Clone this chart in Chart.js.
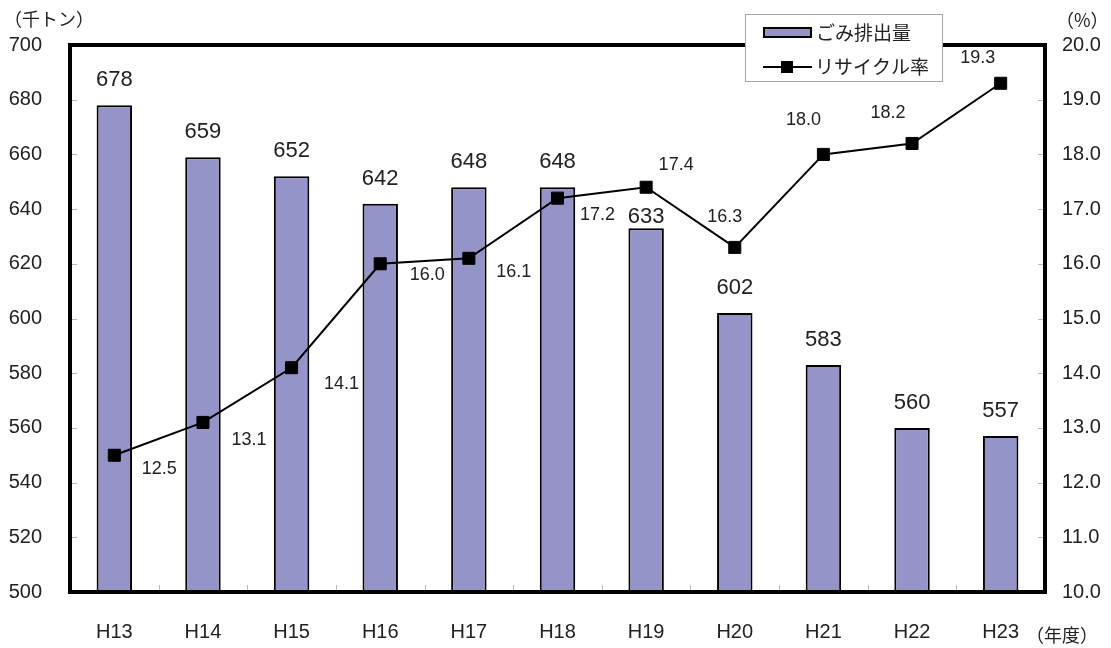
<!DOCTYPE html>
<html>
<head>
<meta charset="utf-8">
<script src="https://cdn.jsdelivr.net/npm/chart.js@4"></script>
<style>
  body { margin: 0; background: #fff; }
  #wrap { width: 1111px; height: 648px; }
</style>
</head>
<body>
<div id="wrap"><canvas id="myChart" width="1111" height="648"></canvas></div>
<script>
// data
var years = ["H13","H14","H15","H16","H17","H18","H19","H20","H21","H22","H23"];
var gomi = [678, 659, 652, 642, 648, 648, 633, 602, 583, 560, 557];
var recycle = [12.5, 13.1, 14.1, 16.0, 16.1, 17.2, 17.4, 16.3, 18.0, 18.2, 19.3];

var barColor = "#9494c8";
var txtColor = "#222";
var numFont = "'Liberation Sans', Arial, sans-serif";
var jpFont = "'Noto Sans CJK JP', 'Noto Sans', sans-serif";

// label placement: bar labels sit above the bar (H19 was nudged down in the original),
// recycle-rate labels sit at (dx, dy) from their point
var barLabelDy = [-25, -25, -25, -25, -25, -25, -11, -25, -25, -25, -25];
var rateOffsets = [[45,14],[46,18],[50,16],[47,11],[45,14],[40,17],[30,-22],[-10,-30],[-20,-34],[-24,-30],[-23,-25]];

var framePlugin = {
  id: 'frame',
  beforeDatasetsDraw: function(chart) {
    var ctx = chart.ctx, a = chart.chartArea, s = chart.scales;
    ctx.save();
    ctx.strokeStyle = '#b8b8b8';
    ctx.lineWidth = 1;
    ctx.beginPath();
    s.y.ticks.forEach(function(t) {
      var y = Math.round(s.y.getPixelForValue(t.value)) + 0.5;
      ctx.moveTo(a.left, y); ctx.lineTo(a.left + 7, y);
    });
    s.y2.ticks.forEach(function(t) {
      var y = Math.round(s.y2.getPixelForValue(t.value)) + 0.5;
      ctx.moveTo(a.right, y); ctx.lineTo(a.right - 7, y);
    });
    var step = a.width / years.length;
    for (var i = 1; i < years.length; i++) {
      var x = Math.round(a.left + i * step) + 0.5;
      ctx.moveTo(x, a.bottom); ctx.lineTo(x, a.bottom - 7);
    }
    ctx.stroke();
    ctx.restore();
  },
  afterDatasetsDraw: function(chart) {
    var ctx = chart.ctx, a = chart.chartArea;
    ctx.save();
    ctx.strokeStyle = '#000';
    ctx.lineWidth = 4;
    ctx.strokeRect(a.left, a.top, a.width, a.height);
    ctx.restore();
  }
};

var labelPlugin = {
  id: 'valueLabels',
  afterDatasetsDraw: function(chart) {
    var ctx = chart.ctx;
    ctx.save();
    ctx.fillStyle = txtColor;
    ctx.textAlign = 'center';
    ctx.textBaseline = 'middle';
    ctx.font = '22px ' + numFont;
    chart.getDatasetMeta(0).data.forEach(function(bar, i) {
      ctx.fillText(gomi[i], bar.x, bar.y + barLabelDy[i]);
    });
    ctx.font = '18px ' + numFont;
    chart.getDatasetMeta(1).data.forEach(function(pt, i) {
      ctx.fillText(recycle[i].toFixed(1), pt.x + rateOffsets[i][0], pt.y + rateOffsets[i][1]);
    });
    ctx.restore();
  }
};

var extrasPlugin = {
  id: 'extras',
  afterDraw: function(chart) {
    var ctx = chart.ctx;
    ctx.save();
    // axis captions
    ctx.fillStyle = txtColor;
    ctx.textBaseline = 'middle';
    ctx.font = '18px ' + jpFont;
    ctx.textAlign = 'left';
    ctx.fillText('（千トン）', 4, 19);
    ctx.fillText('（%）', 1056, 20);
    ctx.fillText('（年度）', 1026, 635);

    // legend
    ctx.fillStyle = '#fff';
    ctx.fillRect(745, 14, 198, 68);
    ctx.strokeStyle = '#a8a8a8';
    ctx.lineWidth = 1;
    ctx.strokeRect(745.5, 14.5, 197, 67);

    ctx.fillStyle = barColor;
    ctx.fillRect(764, 28, 47, 9);
    ctx.strokeStyle = '#000';
    ctx.lineWidth = 2;
    ctx.strokeRect(764, 28, 47, 9);

    ctx.beginPath();
    ctx.moveTo(763, 67); ctx.lineTo(812, 67);
    ctx.stroke();
    ctx.fillStyle = '#000';
    ctx.fillRect(781, 61, 12, 12);

    ctx.fillStyle = txtColor;
    ctx.font = '19px ' + jpFont;
    ctx.fillText('ごみ排出量', 816, 33);
    ctx.fillText('リサイクル率', 815, 67);
    ctx.restore();
  }
};

var ctx = document.getElementById("myChart").getContext('2d');
var myChart = new Chart(ctx, {
  data: {
    labels: years,
    datasets: [{
      type: 'bar',
      label: 'ごみ排出量',
      data: gomi,
      yAxisID: 'y',
      backgroundColor: barColor,
      borderColor: '#000',
      borderWidth: 2,
      borderSkipped: false,
      barPercentage: 0.4,
      categoryPercentage: 1,
      order: 2
    }, {
      type: 'line',
      label: 'リサイクル率',
      data: recycle,
      yAxisID: 'y2',
      borderColor: '#000',
      borderWidth: 2,
      pointStyle: 'rect',
      pointRadius: 8.5,
      pointBackgroundColor: '#000',
      pointBorderColor: '#000',
      pointBorderWidth: 1,
      tension: 0,
      order: 1
    }]
  },
  options: {
    responsive: false,
    animation: false,
    devicePixelRatio: 1,
    layout: { padding: { top: 45, left: 0, right: 0, bottom: 0 } },
    plugins: {
      legend: { display: false },
      tooltip: { enabled: false }
    },
    scales: {
      x: {
        grid: { display: false, drawTicks: false },
        border: { display: false },
        ticks: { color: txtColor, font: { family: numFont, size: 20 }, padding: 28 },
        afterFit: function(scale) { scale.height = 56; }
      },
      y: {
        position: 'left',
        min: 500, max: 700,
        grid: { display: false, drawTicks: false },
        border: { display: false },
        ticks: { stepSize: 20, color: txtColor, font: { family: numFont, size: 20 }, padding: 28 },
        afterFit: function(scale) { scale.width = 70; }
      },
      y2: {
        position: 'right',
        min: 10, max: 20,
        grid: { display: false, drawTicks: false },
        border: { display: false },
        ticks: {
          stepSize: 1, color: txtColor, font: { family: numFont, size: 20 }, padding: 17,
          callback: function(v) { return v.toFixed(1); }
        },
        afterFit: function(scale) { scale.width = 66; }
      }
    }
  },
  plugins: [framePlugin, labelPlugin, extrasPlugin]
});
</script>
</body>
</html>
